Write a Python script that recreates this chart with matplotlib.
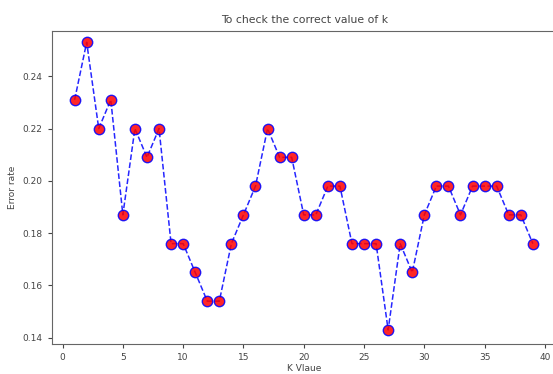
import matplotlib
matplotlib.use('Agg')
import matplotlib.pyplot as plt

# error rate for each k (values are multiples of 1/91)
k_values = list(range(1, 40))
error_rate = [0.231, 0.253, 0.220, 0.231, 0.187, 0.220, 0.209, 0.220, 0.176, 0.176,
              0.165, 0.154, 0.154, 0.176, 0.187, 0.198, 0.220, 0.209, 0.209, 0.187,
              0.187, 0.198, 0.198, 0.176, 0.176, 0.176, 0.143, 0.176, 0.165, 0.187,
              0.198, 0.198, 0.187, 0.198, 0.198, 0.198, 0.187, 0.187, 0.176]
x_ticks = [0, 5, 10, 15, 20, 25, 30, 35, 40]
y_ticks = [0.14, 0.16, 0.18, 0.20, 0.22, 0.24]

fig = plt.figure(figsize=(5.53, 3.74), dpi=100)
# the original screenshot is cut on the right, so the axes run past the edge
ax = fig.add_axes([0.0935, 0.0794, 0.99, 0.839])

ax.plot(k_values, error_rate, color='blue', linestyle='dashed', marker='o',
        markerfacecolor='red', markersize=7.5, linewidth=1.1, alpha=0.85)

ax.set_xticks(x_ticks)
ax.set_yticks(y_ticks)
ax.set_yticklabels(['%.2f' % v for v in y_ticks])
ax.set_xlim(-0.9, 44.5)
ax.set_ylim(0.1375, 0.2575)

txt_col = '#444444'
ax.tick_params(labelsize=6.5, colors=txt_col, length=3, width=0.8)
for s in ax.spines.values():
    s.set_color('#666666')

# title and x label centred on the uncut axes width
fig.text(0.55, 0.946, 'To check the correct value of k', ha='center', va='center',
         fontsize=7.8, color=txt_col)
fig.text(0.55, 0.015, 'K Vlaue', ha='center', va='center', fontsize=6.5, color=txt_col)
ax.set_ylabel('Error rate', fontsize=6.5, color=txt_col)

fig.savefig('out.png', dpi=100)
